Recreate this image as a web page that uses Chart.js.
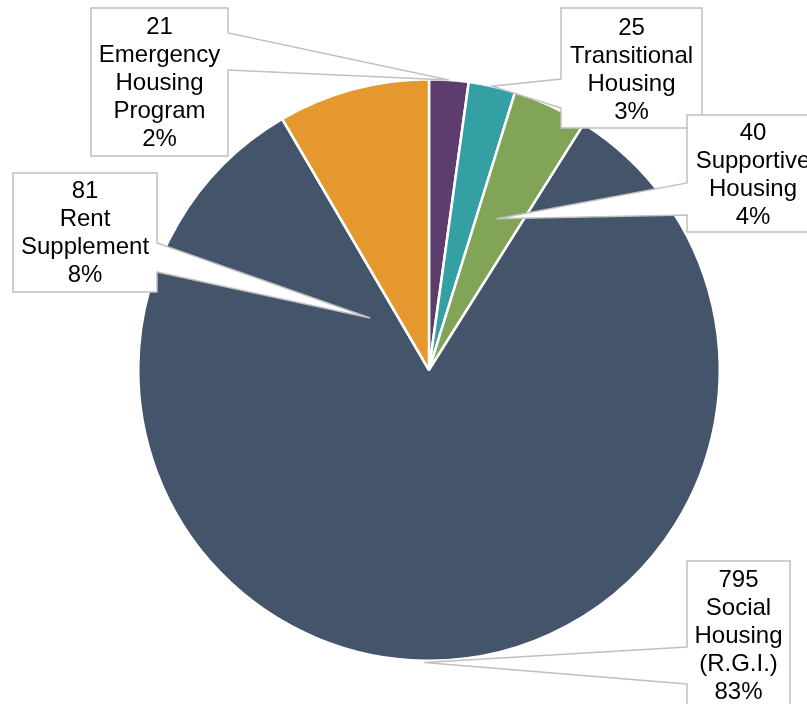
<!DOCTYPE html>
<html>
<head>
<meta charset="utf-8">
<script src="https://cdn.jsdelivr.net/npm/chart.js@4"></script>
<style>
  html, body { margin: 0; padding: 0; background: #ffffff; }
  #wrap { width: 807px; height: 704px; position: relative; }
</style>
</head>
<body>
<div id="wrap"><canvas id="c" width="807" height="704"></canvas></div>
<script>
// ---- data ----
const categories = ["Emergency Housing Program", "Transitional Housing", "Supportive Housing", "Social Housing (R.G.I.)", "Rent Supplement"];
const labelLines = [["Emergency", "Housing", "Program"], ["Transitional", "Housing"], ["Supportive", "Housing"], ["Social", "Housing", "(R.G.I.)"], ["Rent", "Supplement"]];
const counts = [21, 25, 40, 795, 81];
const percentLabels = ["2%", "3%", "4%", "83%", "8%"];
const colors = ["#5c3d6e", "#34a0a4", "#81a456", "#44546a", "#e4982e"];

// ---- callout layout (positions only) ----
const callouts = [
  { box: [91, 8, 228, 156],   side: "right", base: [33, 70],   frac: 0.5,  rf: 1.0,  firstLine: 27 },
  { box: [561, 8, 702, 128],  side: "left",  base: [79, 108],  frac: 0.5,  rf: 1.0,  firstLine: 28 },
  { box: [687, 115, 819, 232],side: "left",  base: [183, 215], frac: 0.46, rf: 0.57, firstLine: 133, cx: 753 },
  { box: [687, 561, 790, 716],side: "left",  base: [647, 684], frac: 0.5,  rf: 1.006,firstLine: 580 },
  { box: [13, 173, 157, 292], side: "right", base: [243, 272], frac: -0.6, rf: 0.27, firstLine: 191 }
];

const calloutPlugin = {
  id: "callouts",
  afterDatasetsDraw(chart) {
    const ctx = chart.ctx;
    const arcs = chart.getDatasetMeta(0).data;
    ctx.save();
    callouts.forEach((c, i) => {
      const a = arcs[i];
      const ang = a.startAngle + (a.endAngle - a.startAngle) * c.frac;
      const tx = a.x + Math.cos(ang) * a.outerRadius * c.rf;
      const ty = a.y + Math.sin(ang) * a.outerRadius * c.rf;
      const [x0, y0, x1, y1] = c.box;
      ctx.beginPath();
      if (c.side === "right") {
        ctx.moveTo(x0, y0);
        ctx.lineTo(x1, y0);
        ctx.lineTo(x1, c.base[0]);
        ctx.lineTo(tx, ty);
        ctx.lineTo(x1, c.base[1]);
        ctx.lineTo(x1, y1);
        ctx.lineTo(x0, y1);
        ctx.closePath();
      } else {
        ctx.moveTo(x0, y0);
        ctx.lineTo(x1, y0);
        ctx.lineTo(x1, y1);
        ctx.lineTo(x0, y1);
        ctx.lineTo(x0, c.base[1]);
        ctx.lineTo(tx, ty);
        ctx.lineTo(x0, c.base[0]);
        ctx.closePath();
      }
      ctx.fillStyle = "#ffffff";
      ctx.fill();
      ctx.lineWidth = 1.5;
      ctx.strokeStyle = "#c0c0c0";
      ctx.lineJoin = "miter";
      ctx.stroke();

      const lines = [String(counts[i])].concat(labelLines[i], [percentLabels[i]]);
      ctx.fillStyle = "#000000";
      ctx.font = "24px 'Liberation Sans', Arial, sans-serif";
      ctx.textAlign = "center";
      ctx.textBaseline = "middle";
      const cx = c.cx !== undefined ? c.cx : (x0 + x1) / 2;
      lines.forEach((t, k) => {
        ctx.fillText(t, cx, c.firstLine + k * 28);
      });
    });
    ctx.restore();
  }
};

new Chart(document.getElementById("c"), {
  type: "pie",
  data: {
    labels: categories,
    datasets: [{
      data: counts,
      backgroundColor: colors,
      borderColor: "#ffffff",
      borderWidth: 2.5
    }]
  },
  options: {
    responsive: false,
    animation: false,
    layout: { padding: { left: 137, right: 86, top: 78, bottom: 42 } },
    plugins: { legend: { display: false }, tooltip: { enabled: false } }
  },
  plugins: [calloutPlugin]
});
</script>
</body>
</html>
